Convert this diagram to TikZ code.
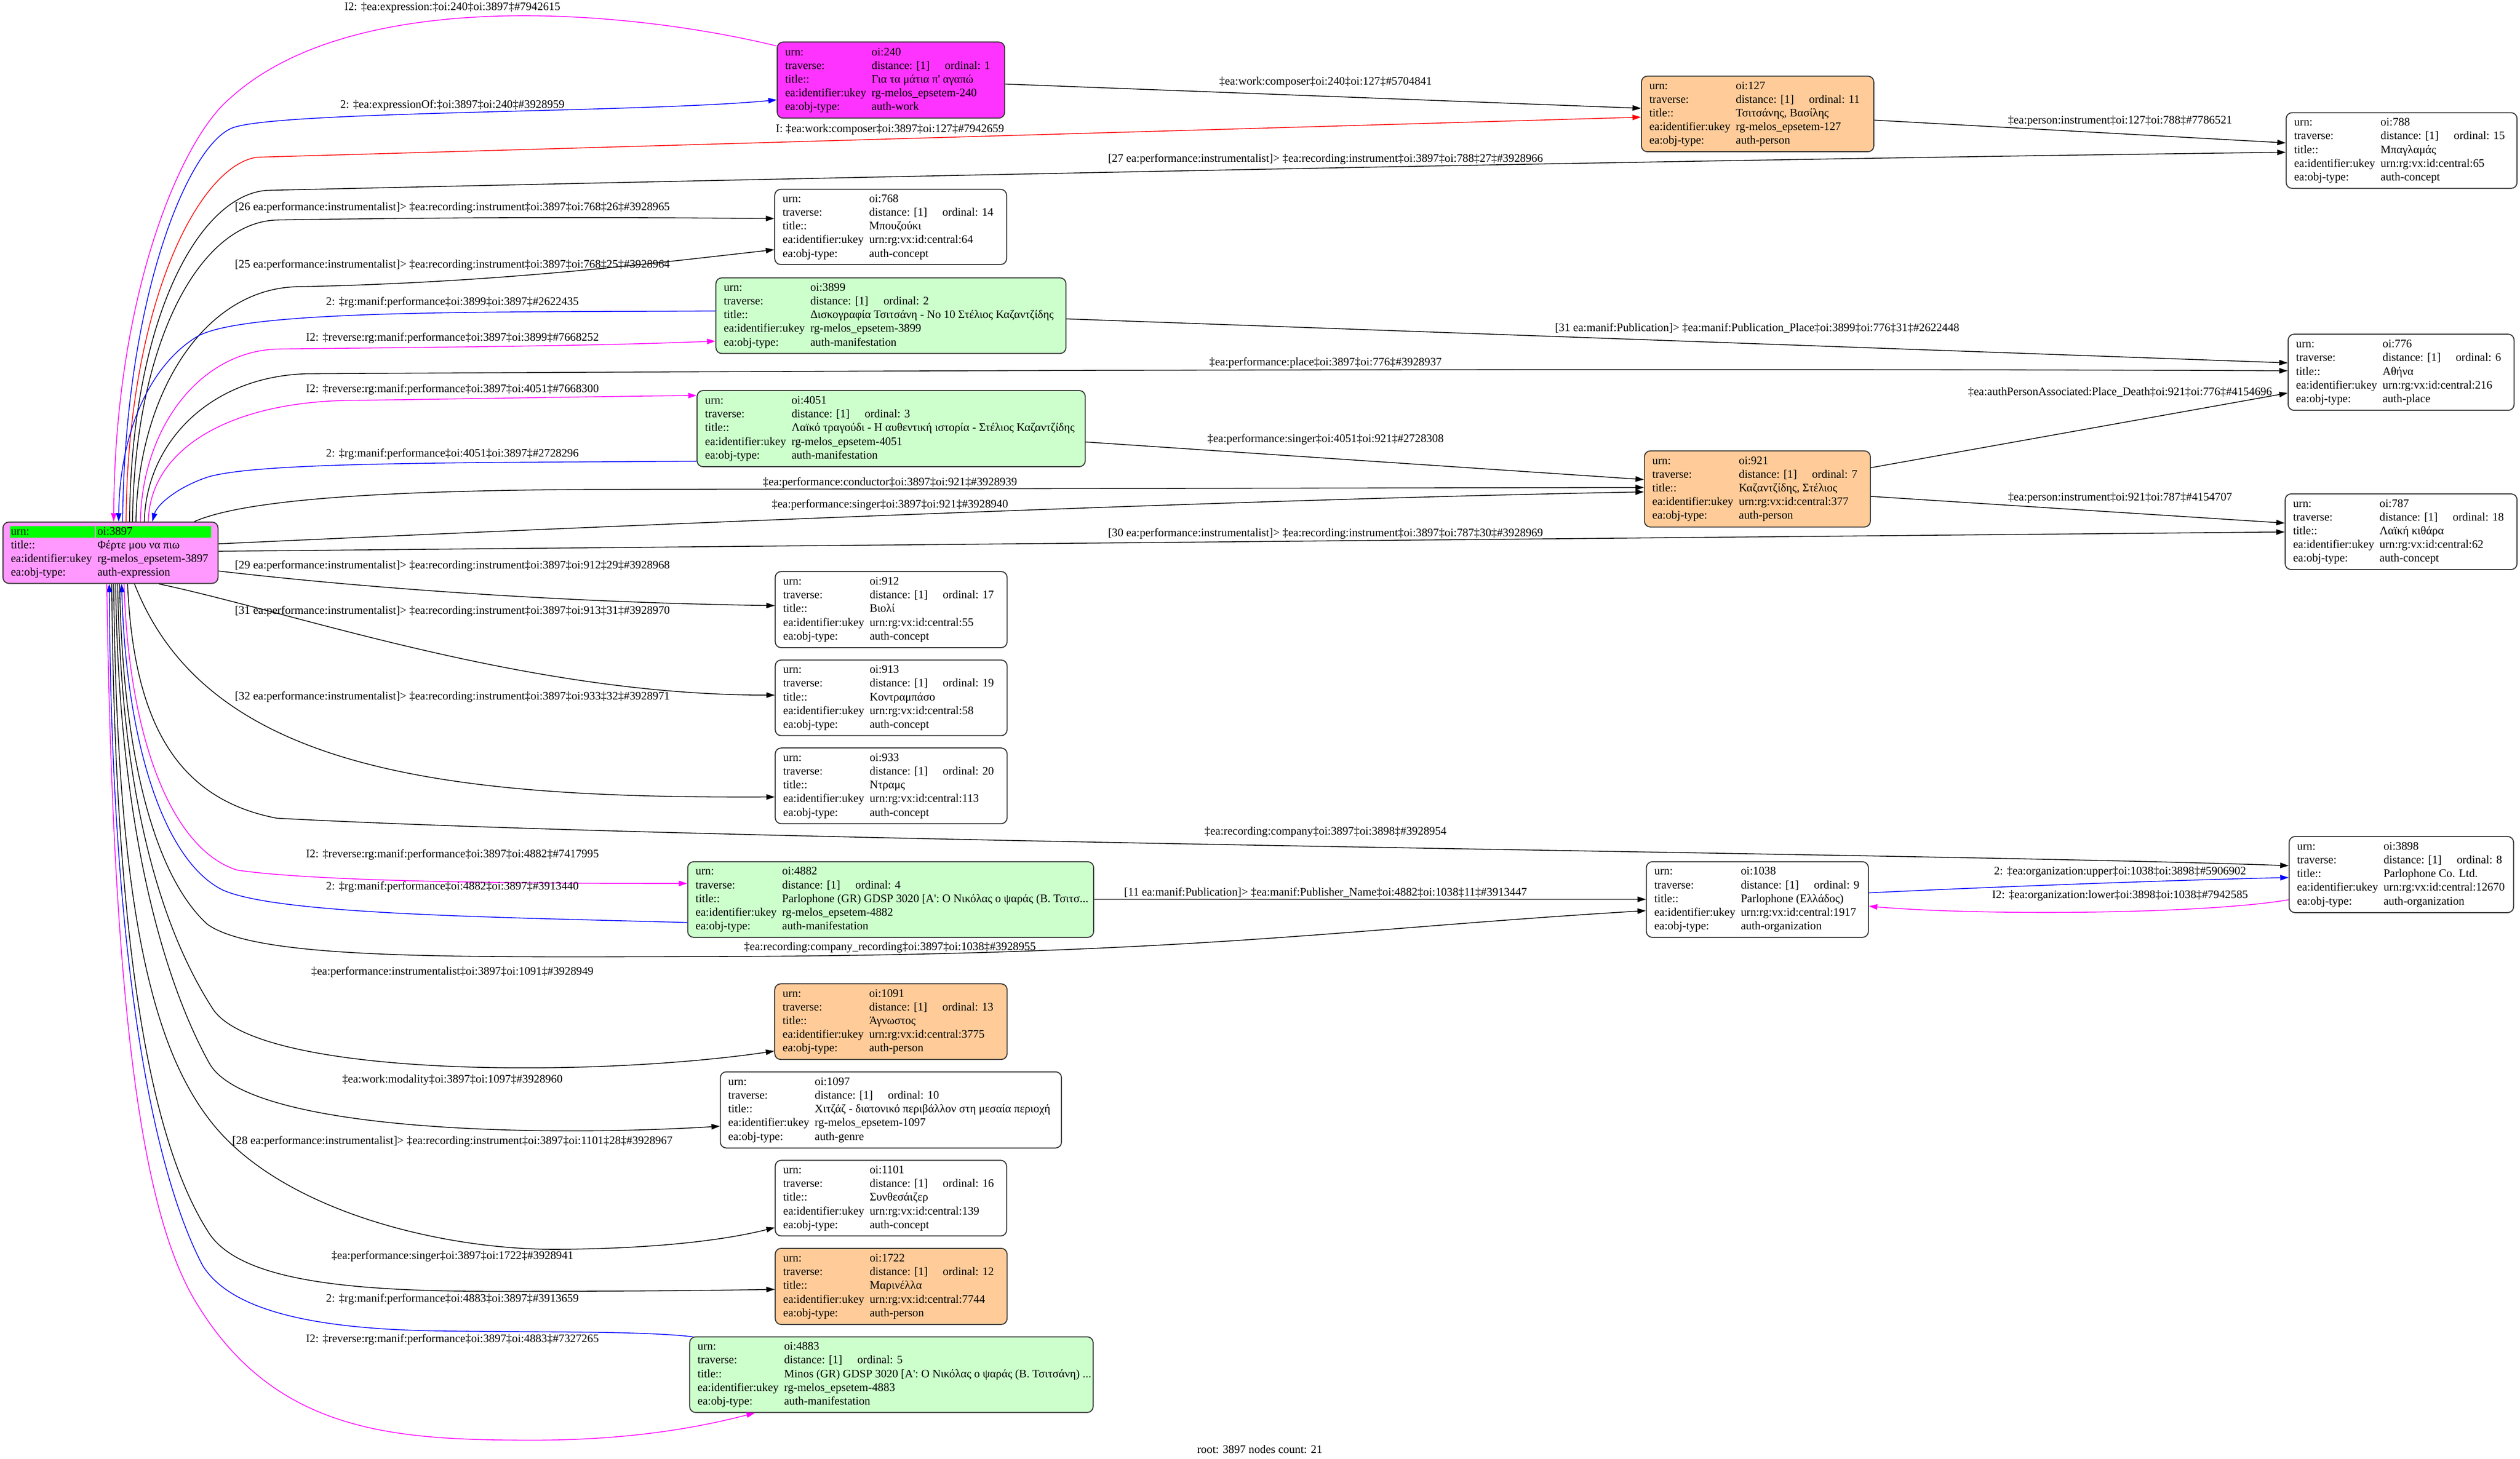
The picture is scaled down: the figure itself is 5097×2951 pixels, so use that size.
\documentclass[tikz,border=0pt]{standalone}
\usepackage{fontspec}
\setmainfont{Liberation Serif}
\usetikzlibrary{arrows.meta,calc}
\definecolor{cRoot}{HTML}{FF99FF}
\definecolor{cWork}{HTML}{FF33FF}
\definecolor{cPeach}{HTML}{FFCC99}
\definecolor{cMan}{HTML}{CCFFCC}
\definecolor{cHi}{HTML}{00FF00}
\definecolor{cBorder}{HTML}{333333}
\definecolor{cBlue}{HTML}{0000FF}
\definecolor{cMag}{HTML}{FF00FF}
\definecolor{cRed}{HTML}{FF0000}
\newcommand\fnt{\fontsize{23.25pt}{27.7pt}\selectfont}
\newcommand\tb[5]{\begin{tabular}{@{}p{175pt}@{}l@{}}urn: & #1\\ traverse: & \makebox[148pt][l]{distance: [1]}ordinal: #2\\ title:: & #3\\ ea:identifier:ukey & #4\\ ea:obj-type: & #5\end{tabular}}
\newcommand\ent[7]{\node[ebox, fill=#6, minimum width=#4, minimum height=#5] (#1) at (#2,#3) {\makebox[\dimexpr#4pt-32pt\relax][l]{#7}};}
\tikzset{
  ebox/.style={draw=cBorder, line width=2pt, rounded corners=12pt, anchor=north west, inner xsep=16pt, inner ysep=0pt},
  eline/.style={line width=1.6pt, -{Triangle[length=17pt,width=11pt]}},
  elab/.style={inner sep=0pt, anchor=center},
}
\begin{document}
\begin{tikzpicture}[x=1pt,y=-1pt,font=\fnt]
\path[fill=white, use as bounding box] (0,0) rectangle (5097,2951);

% ---------- nodes ----------
\node[ebox, fill=cRoot, minimum width=435, minimum height=124,
  path picture={\fill[cHi, sharp corners] ($(path picture bounding box.north west)+(14,8)$) rectangle ++(172,24);
                \fill[cHi, sharp corners] ($(path picture bounding box.north west)+(188,8)$) rectangle ++(233,24);}]
  (root) at (5,1055) {\makebox[403pt][l]{\begin{tabular}{@{}p{175pt}@{}l@{}}urn: & oi:3897\\ title:: & Φέρτε μου να πιω\\ ea:identifier:ukey & rg-melos\_epsetem-3897\\ ea:obj-type: & auth-expression\end{tabular}}};

\ent{n240}{1571}{84}{460}{154}{cWork}{\tb{oi:240}{1}{Για τα μάτια π\textquotesingle{} αγαπώ}{rg-melos\_epsetem-240}{auth-work}}
\ent{n127}{3319}{153}{470}{153}{cPeach}{\tb{oi:127}{11}{Τσιτσάνης, Βασίλης}{rg-melos\_epsetem-127}{auth-person}}
\ent{n788}{4623}{227}{467}{153}{white}{\tb{oi:788}{15}{Μπαγλαμάς}{urn:rg:vx:id:central:65}{auth-concept}}
\ent{n768}{1566}{382}{469}{152}{white}{\tb{oi:768}{14}{Μπουζούκι}{urn:rg:vx:id:central:64}{auth-concept}}
\ent{n3899}{1447}{561}{708}{153}{cMan}{\tb{oi:3899}{2}{Δισκογραφία Τσιτσάνη - No 10 Στέλιος Καζαντζίδης}{rg-melos\_epsetem-3899}{auth-manifestation}}
\ent{n4051}{1409}{789}{785}{154}{cMan}{\tb{oi:4051}{3}{Λαϊκό τραγούδι - Η αυθεντική ιστορία - Στέλιος Καζαντζίδης}{rg-melos\_epsetem-4051}{auth-manifestation}}
\ent{n776}{4627}{675}{457}{154}{white}{\tb{oi:776}{6}{Αθήνα}{urn:rg:vx:id:central:216}{auth-place}}
\ent{n921}{3325}{911}{457}{154}{cPeach}{\tb{oi:921}{7}{Καζαντζίδης, Στέλιος}{urn:rg:vx:id:central:377}{auth-person}}
\ent{n787}{4621}{998}{469}{153}{white}{\tb{oi:787}{18}{Λαϊκή κιθάρα}{urn:rg:vx:id:central:62}{auth-concept}}
\ent{n912}{1567}{1155}{469}{154}{white}{\tb{oi:912}{17}{Βιολί}{urn:rg:vx:id:central:55}{auth-concept}}
\ent{n913}{1567}{1334}{469}{153}{white}{\tb{oi:913}{19}{Κοντραμπάσο}{urn:rg:vx:id:central:58}{auth-concept}}
\ent{n933}{1567}{1512}{469}{153}{white}{\tb{oi:933}{20}{Ντραμς}{urn:rg:vx:id:central:113}{auth-concept}}
\ent{n4882}{1390}{1742}{821}{153}{cMan}{\tb{oi:4882}{4}{Parlophone (GR) GDSP 3020 [A\textquotesingle: Ο Νικόλας ο ψαράς (Β. Τσιτσ...}{rg-melos\_epsetem-4882}{auth-manifestation}}
\ent{n1038}{3329}{1742}{449}{153}{white}{\tb{oi:1038}{9}{Parlophone (Ελλάδος)}{urn:rg:vx:id:central:1917}{auth-organization}}
\ent{n3898}{4629}{1691}{454}{154}{white}{\tb{oi:3898}{8}{Parlophone Co. Ltd.}{urn:rg:vx:id:central:12670}{auth-organization}}
\ent{n1091}{1566}{1989}{470}{153}{cPeach}{\tb{oi:1091}{13}{Άγνωστος}{urn:rg:vx:id:central:3775}{auth-person}}
\ent{n1097}{1456}{2167}{690}{154}{white}{\tb{oi:1097}{10}{Χιτζάζ - διατονικό περιβάλλον στη μεσαία περιοχή}{rg-melos\_epsetem-1097}{auth-genre}}
\ent{n1101}{1567}{2346}{468}{153}{white}{\tb{oi:1101}{16}{Συνθεσάιζερ}{urn:rg:vx:id:central:139}{auth-concept}}
\ent{n1722}{1567}{2524}{469}{154}{cPeach}{\tb{oi:1722}{12}{Μαρινέλλα}{urn:rg:vx:id:central:7744}{auth-person}}
\ent{n4883}{1394}{2703}{816}{153}{cMan}{\tb{oi:4883}{5}{Minos (GR) GDSP 3020 [A\textquotesingle: Ο Νικόλας ο ψαράς (Β. Τσιτσάνη) ...}{rg-melos\_epsetem-4883}{auth-manifestation}}

% ---------- edges: root top group ----------
\draw[eline,cMag] ($(n240.north west)+(0,9)$) .. controls (1271,20) and (714,-30) .. (464,200) .. controls (364,285) and (232,600) .. ($(root.north west)+(225,0)$);
\draw[eline,cBlue] ($(root.north west)+(243,0)$) .. controls (252,600) and (382,289) .. (472,258) .. controls (570,224) and (1300,228) .. ($(n240.north west)+(0,118)$);
\draw[eline,cRed] ($(root.north west)+(250,0)$) .. controls (258,620) and (400,335) .. (520,318) .. controls (1500,290) and (2800,252) .. ($(n127.north west)+(0,84)$);
\draw[eline] ($(root.north west)+(257,0)$) .. controls (265,650) and (400,395) .. (540,385) .. controls (2000,352) and (3500,322) .. ($(n788.north west)+(0,81)$);
\draw[eline] ($(root.north west)+(263,0)$) .. controls (272,700) and (400,450) .. (560,445) .. controls (1000,438) and (1300,440) .. ($(n768.north west)+(0,60)$);
\draw[eline] ($(root.north west)+(270,0)$) .. controls (279,800) and (410,585) .. (600,580) .. controls (1000,572) and (1300,535) .. ($(n768.north west)+(0,123)$);
\draw[eline,cBlue] ($(n3899.north west)+(0,68)$) .. controls (1000,632) and (500,625) .. (400,680) .. controls (300,740) and (242,880) .. ($(root.north west)+(235,0)$);
\draw[eline,cMag] ($(root.north west)+(279,0)$) .. controls (287,870) and (400,712) .. (560,706) .. controls (900,702) and (1200,700) .. ($(n3899.north west)+(0,129)$);
\draw[eline] ($(root.north west)+(287,0)$) .. controls (295,900) and (420,762) .. (620,756) .. controls (2000,748) and (3500,745) .. ($(n776.north west)+(0,75)$);
\draw[eline,cMag] ($(root.north west)+(295,0)$) .. controls (303,910) and (460,815) .. (700,810) .. controls (1000,806) and (1200,802) .. ($(n4051.north west)+(0,11)$);
\draw[eline,cBlue] ($(n4051.north west)+(0,144)$) .. controls (900,936) and (520,935) .. (420,965) .. controls (360,985) and (318,1020) .. ($(root.north west)+(303,0)$);
\draw[eline] ($(root.north west)+(388,0)$) .. controls (500,1008) and (800,992) .. (1200,990) -- ($(n921.north west)+(0,75)$);

% ---------- root right ----------
\draw[eline] ($(root.north east)+(0,45)$) .. controls (1200,1065) and (2500,1010) .. ($(n921.north west)+(0,84)$);
\draw[eline] ($(root.north east)+(0,60)$) -- ($(n787.north west)+(0,78)$);
\draw[eline] ($(root.north east)+(0,100)$) .. controls (700,1185) and (1100,1218) .. ($(n912.north west)+(0,70)$);

% ---------- root bottom group ----------
\draw[eline] ($(root.south west)+(316,0)$) .. controls (600,1240) and (1067,1406) .. ($(n913.north west)+(0,72)$);
\draw[eline] ($(root.south west)+(267,0)$) .. controls (420,1560) and (900,1615) .. ($(n933.north west)+(0,100)$);
\draw[eline] ($(root.south west)+(253,0)$) .. controls (270,1450) and (350,1615) .. (560,1655) .. controls (1500,1705) and (3900,1725) .. ($(n3898.north west)+(0,60)$);
\draw[eline,cMag] ($(root.south west)+(246,0)$) .. controls (260,1500) and (350,1720) .. (480,1760) .. controls (650,1785) and (1100,1787) .. ($(n4882.north west)+(0,45)$);
\draw[eline,cBlue] ($(n4882.north west)+(0,124)$) .. controls (1000,1855) and (560,1850) .. (450,1800) .. controls (330,1740) and (255,1500) .. ($(root.south west)+(241,0)$);
\draw[eline] ($(root.south west)+(237,0)$) .. controls (248,1550) and (320,1780) .. (420,1870) .. controls (520,1940) and (900,1936) .. (1380,1935) .. controls (2400,1934) and (2700,1880) .. ($(n1038.north west)+(0,100)$);
\draw[eline] ($(root.south west)+(233,0)$) .. controls (245,1650) and (340,1900) .. (430,2040) .. controls (520,2180) and (1200,2180) .. ($(n1091.north west)+(0,137)$);
\draw[eline] ($(root.south west)+(229,0)$) .. controls (240,1700) and (340,2000) .. (423,2150) .. controls (500,2290) and (1100,2300) .. ($(n1097.north west)+(0,111)$);
\draw[eline] ($(root.south west)+(225,0)$) .. controls (236,1800) and (300,2100) .. (420,2260) .. controls (560,2450) and (900,2530) .. (1135,2527) .. controls (1350,2525) and (1480,2505) .. ($(n1101.north west)+(0,137)$);
\draw[eline] ($(root.south west)+(221,0)$) .. controls (232,1900) and (300,2300) .. (420,2490) .. controls (480,2590) and (700,2612) .. (1000,2612) .. controls (1300,2612) and (1450,2610) .. ($(n1722.north west)+(0,84)$);
\draw[eline,cBlue] ($(n4883.north west)+(8,1)$) .. controls (1300,2692) and (1100,2695) .. (885,2692) .. controls (600,2688) and (460,2640) .. (410,2560) .. controls (300,2350) and (225,1900) .. ($(root.south west)+(216,0)$);
\draw[eline,cMag] ($(root.south west)+(211,0)$) .. controls (228,2000) and (280,2450) .. (400,2640) .. controls (560,2900) and (800,2913) .. (1079,2913) .. controls (1300,2913) and (1440,2880) .. ($(n4883.south west)+(133,0)$);

% ---------- other edges ----------
\draw[eline] ($(n240.north east)+(0,86)$) -- ($(n127.north west)+(0,66)$);
\draw[eline] ($(n127.north east)+(0,90)$) -- ($(n788.north west)+(0,62)$);
\draw[eline] ($(n3899.north east)+(0,84)$) -- ($(n776.north west)+(0,59)$);
\draw[eline] ($(n4051.north east)+(0,105)$) -- ($(n921.north west)+(0,59)$);
\draw[eline] ($(n921.north east)+(0,35)$) -- ($(n776.north west)+(0,120)$);
\draw[eline] ($(n921.north east)+(0,93)$) -- ($(n787.north west)+(0,60)$);
\draw[eline] ($(n4882.north east)+(0,77)$) -- ($(n1038.north west)+(0,77)$);
\draw[eline,cBlue] ($(n1038.north east)+(0,64)$) .. controls (4000,1795) and (4400,1780) .. ($(n3898.north west)+(0,84)$);
\draw[eline,cMag] ($(n3898.north west)+(0,129)$) .. controls (4450,1850) and (4000,1852) .. ($(n1038.north east)+(0,91)$);

% ---------- edge labels ----------
\node[elab] (l1) at (915,15) {I2: ‡ea:expression:‡oi:240‡oi:3897‡\#7942615};
\node[elab] (l2) at (915,213) {2: ‡ea:expressionOf:‡oi:3897‡oi:240‡\#3928959};
\node[elab] (l3) at (1800,262) {I: ‡ea:work:composer‡oi:3897‡oi:127‡\#7942659};
\node[elab] (l4) at (2681,322) {[27 ea:performance:instrumentalist]> ‡ea:recording:instrument‡oi:3897‡oi:788‡27‡\#3928966};
\node[elab] (l5) at (915,420) {[26 ea:performance:instrumentalist]> ‡ea:recording:instrument‡oi:3897‡oi:768‡26‡\#3928965};
\node[elab] (l6) at (915,536) {[25 ea:performance:instrumentalist]> ‡ea:recording:instrument‡oi:3897‡oi:768‡25‡\#3928964};
\node[elab] (l7) at (915,612) {2: ‡rg:manif:performance‡oi:3899‡oi:3897‡\#2622435};
\node[elab] (l8) at (915,684) {I2: ‡reverse:rg:manif:performance‡oi:3897‡oi:3899‡\#7668252};
\node[elab] (l9) at (2681,734) {‡ea:performance:place‡oi:3897‡oi:776‡\#3928937};
\node[elab] (l10) at (915,788) {I2: ‡reverse:rg:manif:performance‡oi:3897‡oi:4051‡\#7668300};
\node[elab] (l11) at (915,918) {2: ‡rg:manif:performance‡oi:4051‡oi:3897‡\#2728296};
\node[elab] (l12) at (1800,976) {‡ea:performance:conductor‡oi:3897‡oi:921‡\#3928939};
\node[elab] (l13) at (1800,1021) {‡ea:performance:singer‡oi:3897‡oi:921‡\#3928940};
\node[elab] (l14) at (2681,1079) {[30 ea:performance:instrumentalist]> ‡ea:recording:instrument‡oi:3897‡oi:787‡30‡\#3928969};
\node[elab] (l15) at (2681,889) {‡ea:performance:singer‡oi:4051‡oi:921‡\#2728308};
\node[elab] (l16) at (915,1145) {[29 ea:performance:instrumentalist]> ‡ea:recording:instrument‡oi:3897‡oi:912‡29‡\#3928968};
\node[elab] (l17) at (915,1236) {[31 ea:performance:instrumentalist]> ‡ea:recording:instrument‡oi:3897‡oi:913‡31‡\#3928970};
\node[elab] (l18) at (915,1410) {[32 ea:performance:instrumentalist]> ‡ea:recording:instrument‡oi:3897‡oi:933‡32‡\#3928971};
\node[elab] (l19) at (2681,1683) {‡ea:recording:company‡oi:3897‡oi:3898‡\#3928954};
\node[elab] (l20) at (915,1729) {I2: ‡reverse:rg:manif:performance‡oi:3897‡oi:4882‡\#7417995};
\node[elab] (l21) at (915,1794) {2: ‡rg:manif:performance‡oi:4882‡oi:3897‡\#3913440};
\node[elab] (l22) at (1800,1916) {‡ea:recording:company\_recording‡oi:3897‡oi:1038‡\#3928955};
\node[elab] (l23) at (915,1966) {‡ea:performance:instrumentalist‡oi:3897‡oi:1091‡\#3928949};
\node[elab] (l24) at (915,2185) {‡ea:work:modality‡oi:3897‡oi:1097‡\#3928960};
\node[elab] (l25) at (915,2309) {[28 ea:performance:instrumentalist]> ‡ea:recording:instrument‡oi:3897‡oi:1101‡28‡\#3928967};
\node[elab] (l26) at (915,2541) {‡ea:performance:singer‡oi:3897‡oi:1722‡\#3928941};
\node[elab] (l27) at (915,2628) {2: ‡rg:manif:performance‡oi:4883‡oi:3897‡\#3913659};
\node[elab] (l28) at (915,2709) {I2: ‡reverse:rg:manif:performance‡oi:3897‡oi:4883‡\#7327265};
\node[elab] (l29) at (2681,166) {‡ea:work:composer‡oi:240‡oi:127‡\#5704841};
\node[elab] (l30) at (4288,245) {‡ea:person:instrument‡oi:127‡oi:788‡\#7786521};
\node[elab] (l31) at (3554,664) {[31 ea:manif:Publication]> ‡ea:manif:Publication\_Place‡oi:3899‡oi:776‡31‡\#2622448};
\node[elab] (l32) at (4288,793) {‡ea:authPersonAssociated:Place\_Death‡oi:921‡oi:776‡\#4154696};
\node[elab] (l33) at (4288,1007) {‡ea:person:instrument‡oi:921‡oi:787‡\#4154707};
\node[elab] (l34) at (2681,1805) {[11 ea:manif:Publication]> ‡ea:manif:Publisher\_Name‡oi:4882‡oi:1038‡11‡\#3913447};
\node[elab] (l35) at (4288,1764) {2: ‡ea:organization:upper‡oi:1038‡oi:3898‡\#5906902};
\node[elab] (l36) at (4288,1812) {I2: ‡ea:organization:lower‡oi:3898‡oi:1038‡\#7942585};
\node[elab] (foot) at (2548,2932) {root: 3897 nodes count: 21};
\end{tikzpicture}
\end{document}
